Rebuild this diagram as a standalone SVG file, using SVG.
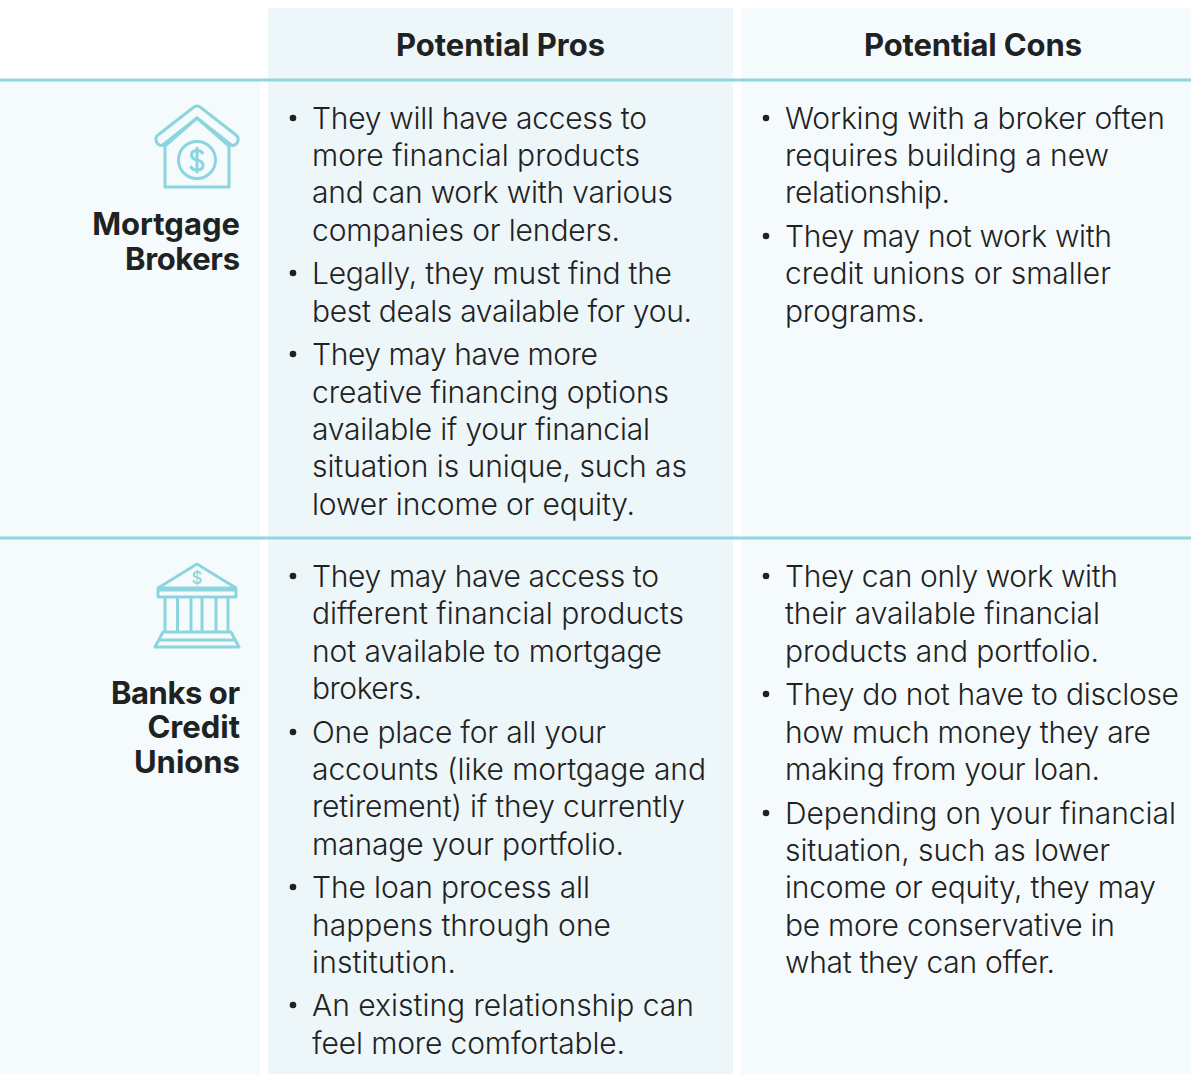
<svg xmlns="http://www.w3.org/2000/svg" width="1191" height="1074" viewBox="0 0 1191 1074">
<style>
text{font-family:"Inter","Liberation Sans",sans-serif;fill:#1f2222}
.b{font-size:30px;font-weight:350}
.h{font-size:31px;font-weight:700;text-anchor:middle}
.r{font-size:31px;font-weight:700;text-anchor:end}
.ic{fill:none;stroke:#8dd5de;stroke-width:3;stroke-linejoin:round;stroke-linecap:round}
.rule{stroke:#8fd6de;stroke-width:3}
.dot{fill:#1f2222}
</style>
<defs><g id="bullet"><circle class="dot" r="3.300"/></g></defs>
<rect width="1191" height="1074" fill="#fff"/>
<rect x="268" y="8" width="465" height="1066" fill="#edf6f8"/>
<rect x="741" y="8" width="450" height="1066" fill="#f5fbfc"/>
<rect x="0" y="81" width="260" height="993" fill="#f5fbfc"/>
<g id="rules"><line class="rule" x1="0" y1="80" x2="1191" y2="80"/><line class="rule" x1="0" y1="538" x2="1191" y2="538"/></g>
<g id="header-pros"><text class="h" x="500.500" y="56" textLength="209">Potential Pros</text></g>
<g id="header-cons"><text class="h" x="973" y="56" textLength="218">Potential Cons</text></g>
<g id="row-mortgage">
<g class="ic"><path d="M165 146L197 118L229 146V187H165V146"/><path d="M162 145.500A6 6 0 0 1 158 135L194 107Q197 105 200 107L236 135A6 6 0 0 1 232 145.500L197 118Z" /><circle cx="197" cy="160" r="18.500"/><path d="M202.500 153Q201 150.500 197 150.500Q191.500 150.500 191.500 155Q191.500 159 197 160Q203 161 203 165.500Q203 170 197 170Q192.500 170 191 167M197 148V172"/></g>
<text class="r" x="240" y="235">Mortgage</text><text class="r" x="240" y="270" textLength="115">Brokers</text>
</g>
<g id="row-banks">
<g class="ic"><path d="M158 588L197 564L236 588Z"/><path d="M158 590H236V597H158ZM165 597V632M177.500 597V632M191 597V632M202 597V632M216 597V632M228 597V632M163 632H231L239 647H155ZM161 640H233"/></g>
<text x="197" y="584" text-anchor="middle" style="font-size:17px;font-weight:500;fill:#8dd5de">$</text>
<text class="r" x="240" y="704" textLength="129">Banks or</text><text class="r" x="240" y="738">Credit</text><text class="r" x="240" y="773">Unions</text>
</g>
<g id="pros-mortgage">
<use href="#bullet" x="293" y="118"/><use href="#bullet" x="293" y="273"/><use href="#bullet" x="293" y="354"/>
<text class="b" x="312" y="129" textLength="335">They will have access to</text>
<text class="b" x="312" y="166" textLength="328">more financial products</text>
<text class="b" x="312" y="203" textLength="361">and can work with various</text>
<text class="b" x="312" y="241" textLength="308">companies or lenders.</text>
<text class="b" x="312" y="284" textLength="360">Legally, they must find the</text>
<text class="b" x="312" y="322" textLength="380">best deals available for you.</text>
<text class="b" x="312" y="365" textLength="286">They may have more</text>
<text class="b" x="312" y="403" textLength="357">creative financing options</text>
<text class="b" x="312" y="440" textLength="338">available if your financial</text>
<text class="b" x="312" y="477" textLength="375">situation is unique, such as</text>
<text class="b" x="312" y="515" textLength="323">lower income or equity.</text>
</g>
<g id="cons-mortgage">
<use href="#bullet" x="766" y="118"/><use href="#bullet" x="766" y="236"/>
<text class="b" x="785" y="129" textLength="380">Working with a broker often</text>
<text class="b" x="785" y="166" textLength="324">requires building a new</text>
<text class="b" x="785" y="203" textLength="165">relationship.</text>
<text class="b" x="785" y="247" textLength="327">They may not work with</text>
<text class="b" x="785" y="284" textLength="326">credit unions or smaller</text>
<text class="b" x="785" y="322" textLength="140">programs.</text>
</g>
<g id="pros-banks">
<use href="#bullet" x="293" y="576"/><use href="#bullet" x="293" y="732"/><use href="#bullet" x="293" y="887"/><use href="#bullet" x="293" y="1005"/>
<text class="b" x="312" y="587" textLength="347">They may have access to</text>
<text class="b" x="312" y="624" textLength="372">different financial products</text>
<text class="b" x="312" y="662" textLength="350">not available to mortgage</text>
<text class="b" x="312" y="699" textLength="110">brokers.</text>
<text class="b" x="312" y="743" textLength="294">One place for all your</text>
<text class="b" x="312" y="780" textLength="394">accounts (like mortgage and</text>
<text class="b" x="312" y="817" textLength="373">retirement) if they currently</text>
<text class="b" x="312" y="855" textLength="312">manage your portfolio.</text>
<text class="b" x="312" y="898" textLength="278">The loan process all</text>
<text class="b" x="312" y="936" textLength="299">happens through one</text>
<text class="b" x="312" y="973" textLength="144">institution.</text>
<text class="b" x="312" y="1016" textLength="382">An existing relationship can</text>
<text class="b" x="312" y="1054" textLength="313">feel more comfortable.</text>
</g>
<g id="cons-banks">
<use href="#bullet" x="766" y="576"/><use href="#bullet" x="766" y="694"/><use href="#bullet" x="766" y="813"/>
<text class="b" x="785" y="587" textLength="333">They can only work with</text>
<text class="b" x="785" y="624" textLength="315">their available financial</text>
<text class="b" x="785" y="662" textLength="314">products and portfolio.</text>
<text class="b" x="785" y="705" textLength="394">They do not have to disclose</text>
<text class="b" x="785" y="743" textLength="366">how much money they are</text>
<text class="b" x="785" y="780" textLength="315">making from your loan.</text>
<text class="b" x="785" y="824" textLength="391">Depending on your financial</text>
<text class="b" x="785" y="861" textLength="325">situation, such as lower</text>
<text class="b" x="785" y="898" textLength="371">income or equity, they may</text>
<text class="b" x="785" y="936" textLength="330">be more conservative in</text>
<text class="b" x="785" y="973" textLength="270">what they can offer.</text>
</g>
</svg>
